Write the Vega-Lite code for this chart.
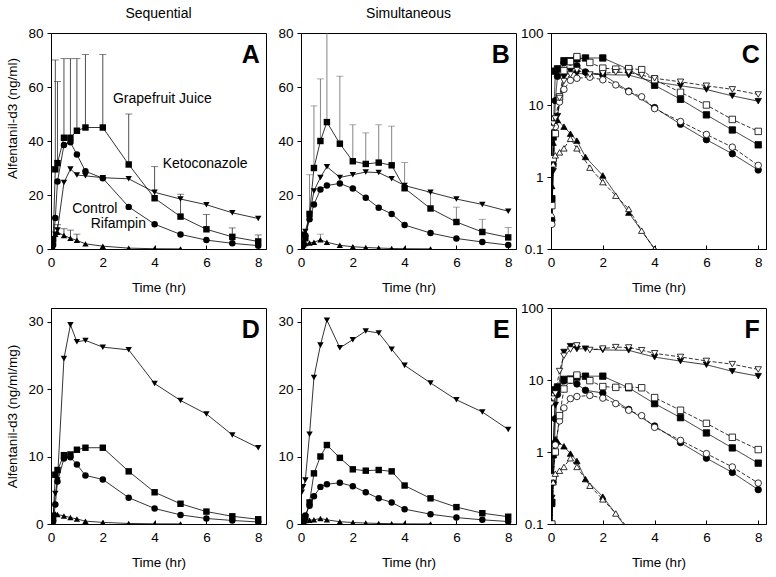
{
  "$schema": "https://vega.github.io/schema/vega-lite/v6.json",
  "padding": {"left": 5, "top": 6, "right": 5, "bottom": 5},
  "background": "white",
  "datasets": {
    "pk": [
      {"s":"seq","d":"Control","t":0.033,"c":0.25,"n":0.1},
      {"s":"seq","d":"Control","t":0.083,"c":1.5,"n":0.38},
      {"s":"seq","d":"Control","t":0.167,"c":11.5,"n":2.9},
      {"s":"seq","d":"Control","t":0.25,"c":25,"n":6.3},
      {"s":"seq","d":"Control","t":0.5,"c":38.5,"n":9.7},
      {"s":"seq","d":"Control","t":0.75,"c":39.5,"n":9.9},
      {"s":"seq","d":"Control","t":1,"c":35,"n":8.8},
      {"s":"seq","d":"Control","t":1.33,"c":28.8,"n":7.2},
      {"s":"seq","d":"Control","t":2,"c":26.2,"n":6.6},
      {"s":"seq","d":"Control","t":3,"c":15.6,"n":3.9},
      {"s":"seq","d":"Control","t":4,"c":9.2,"n":2.3},
      {"s":"seq","d":"Control","t":5,"c":5.4,"n":1.35},
      {"s":"seq","d":"Control","t":6,"c":3.3,"n":0.82},
      {"s":"seq","d":"Control","t":7,"c":2.1,"n":0.52},
      {"s":"seq","d":"Control","t":8,"c":1.25,"n":0.3},
      {"s":"seq","d":"Grapefruit Juice","t":0.033,"c":0.5,"n":0.2},
      {"s":"seq","d":"Grapefruit Juice","t":0.083,"c":3.6,"n":0.92},
      {"s":"seq","d":"Grapefruit Juice","t":0.167,"c":29.5,"n":7.3,"e":70},
      {"s":"seq","d":"Grapefruit Juice","t":0.25,"c":31.8,"n":8,"e":62},
      {"s":"seq","d":"Grapefruit Juice","t":0.5,"c":41.2,"n":10.2,"e":70.5},
      {"s":"seq","d":"Grapefruit Juice","t":0.75,"c":41.2,"n":10.3,"e":70.5},
      {"s":"seq","d":"Grapefruit Juice","t":1,"c":43.8,"n":11,"e":70.5},
      {"s":"seq","d":"Grapefruit Juice","t":1.33,"c":45,"n":11.3,"e":72},
      {"s":"seq","d":"Grapefruit Juice","t":2,"c":45,"n":11.3,"e":72},
      {"s":"seq","d":"Grapefruit Juice","t":3,"c":31.3,"n":7.8,"e":50},
      {"s":"seq","d":"Grapefruit Juice","t":4,"c":18.8,"n":4.7,"e":30.5},
      {"s":"seq","d":"Grapefruit Juice","t":5,"c":12,"n":3.0,"e":20.3},
      {"s":"seq","d":"Grapefruit Juice","t":6,"c":7.3,"n":1.84,"e":12.8},
      {"s":"seq","d":"Grapefruit Juice","t":7,"c":4.5,"n":1.14,"e":7.8},
      {"s":"seq","d":"Grapefruit Juice","t":8,"c":2.8,"n":0.7,"e":5.2},
      {"s":"seq","d":"Ketoconazole","t":0.033,"c":0.24,"n":0.23},
      {"s":"seq","d":"Ketoconazole","t":0.083,"c":1.2,"n":1.3},
      {"s":"seq","d":"Ketoconazole","t":0.167,"c":5.5,"n":4.5},
      {"s":"seq","d":"Ketoconazole","t":0.25,"c":7,"n":6.5},
      {"s":"seq","d":"Ketoconazole","t":0.5,"c":24.6,"n":24.5},
      {"s":"seq","d":"Ketoconazole","t":0.75,"c":29.6,"n":29.5},
      {"s":"seq","d":"Ketoconazole","t":1,"c":27.4,"n":27},
      {"s":"seq","d":"Ketoconazole","t":1.33,"c":27.1,"n":27.2},
      {"s":"seq","d":"Ketoconazole","t":2,"c":26.4,"n":26.2},
      {"s":"seq","d":"Ketoconazole","t":3,"c":26,"n":25.8},
      {"s":"seq","d":"Ketoconazole","t":4,"c":21,"n":20.8},
      {"s":"seq","d":"Ketoconazole","t":5,"c":18.5,"n":18.3},
      {"s":"seq","d":"Ketoconazole","t":6,"c":16.4,"n":16.3},
      {"s":"seq","d":"Ketoconazole","t":7,"c":13.4,"n":13.2},
      {"s":"seq","d":"Ketoconazole","t":8,"c":11.3,"n":11.3},
      {"s":"seq","d":"Rifampin","t":0.033,"c":0.75,"n":0.19},
      {"s":"seq","d":"Rifampin","t":0.083,"c":3,"n":0.9},
      {"s":"seq","d":"Rifampin","t":0.167,"c":5.5,"n":1.5},
      {"s":"seq","d":"Rifampin","t":0.25,"c":6.2,"n":1.4,"e":9},
      {"s":"seq","d":"Rifampin","t":0.5,"c":5,"n":1.2,"e":7.5},
      {"s":"seq","d":"Rifampin","t":0.75,"c":4,"n":0.95,"e":7},
      {"s":"seq","d":"Rifampin","t":1,"c":3.2,"n":0.75,"e":5.5},
      {"s":"seq","d":"Rifampin","t":1.33,"c":1.9,"n":0.42},
      {"s":"seq","d":"Rifampin","t":2,"c":1.05,"n":0.24},
      {"s":"seq","d":"Rifampin","t":3,"c":0.32,"n":0.08},
      {"s":"seq","d":"Rifampin","t":4,"c":0.1,"n":0.03},
      {"s":"seq","d":"Rifampin","t":5,"c":0.04,"n":0.012},
      {"s":"sim","d":"Control","t":0.033,"c":0.22,"n":0.06},
      {"s":"sim","d":"Control","t":0.083,"c":1.8,"n":0.45},
      {"s":"sim","d":"Control","t":0.167,"c":5,"n":1.25},
      {"s":"sim","d":"Control","t":0.33,"c":11,"n":2.7},
      {"s":"sim","d":"Control","t":0.5,"c":16.5,"n":4.1},
      {"s":"sim","d":"Control","t":0.75,"c":22,"n":5.5},
      {"s":"sim","d":"Control","t":1,"c":23.5,"n":5.9},
      {"s":"sim","d":"Control","t":1.5,"c":24.3,"n":6.1},
      {"s":"sim","d":"Control","t":2,"c":22.4,"n":5.6},
      {"s":"sim","d":"Control","t":2.5,"c":19,"n":4.7},
      {"s":"sim","d":"Control","t":3,"c":15.3,"n":3.8},
      {"s":"sim","d":"Control","t":3.5,"c":13,"n":3.2},
      {"s":"sim","d":"Control","t":4,"c":8.9,"n":2.2},
      {"s":"sim","d":"Control","t":5,"c":5.9,"n":1.45},
      {"s":"sim","d":"Control","t":6,"c":3.9,"n":0.95},
      {"s":"sim","d":"Control","t":7,"c":2.6,"n":0.62},
      {"s":"sim","d":"Control","t":8,"c":1.45,"n":0.37},
      {"s":"sim","d":"Grapefruit Juice","t":0.033,"c":0.4,"n":0.1},
      {"s":"sim","d":"Grapefruit Juice","t":0.083,"c":1.8,"n":0.45},
      {"s":"sim","d":"Grapefruit Juice","t":0.167,"c":4,"n":1},
      {"s":"sim","d":"Grapefruit Juice","t":0.33,"c":13,"n":3.2,"e":27.5},
      {"s":"sim","d":"Grapefruit Juice","t":0.5,"c":30,"n":7.5,"e":53},
      {"s":"sim","d":"Grapefruit Juice","t":0.75,"c":40,"n":10,"e":63},
      {"s":"sim","d":"Grapefruit Juice","t":1,"c":47,"n":11.7,"e":85},
      {"s":"sim","d":"Grapefruit Juice","t":1.5,"c":39,"n":9.8,"e":64},
      {"s":"sim","d":"Grapefruit Juice","t":2,"c":32.5,"n":8.1,"e":46},
      {"s":"sim","d":"Grapefruit Juice","t":2.5,"c":31.5,"n":7.9,"e":43},
      {"s":"sim","d":"Grapefruit Juice","t":3,"c":32,"n":8,"e":46},
      {"s":"sim","d":"Grapefruit Juice","t":3.5,"c":31,"n":7.8,"e":45.5},
      {"s":"sim","d":"Grapefruit Juice","t":4,"c":22.5,"n":5.7,"e":32},
      {"s":"sim","d":"Grapefruit Juice","t":5,"c":15,"n":3.8,"e":21},
      {"s":"sim","d":"Grapefruit Juice","t":6,"c":10,"n":2.5,"e":15.5},
      {"s":"sim","d":"Grapefruit Juice","t":7,"c":6.3,"n":1.6,"e":11},
      {"s":"sim","d":"Grapefruit Juice","t":8,"c":4.3,"n":1.08,"e":8},
      {"s":"sim","d":"Ketoconazole","t":0.033,"c":4.8,"n":4.7},
      {"s":"sim","d":"Ketoconazole","t":0.083,"c":5.5,"n":5.5},
      {"s":"sim","d":"Ketoconazole","t":0.167,"c":6.5,"n":6.5},
      {"s":"sim","d":"Ketoconazole","t":0.33,"c":12.5,"n":13.3},
      {"s":"sim","d":"Ketoconazole","t":0.5,"c":21.5,"n":21.7},
      {"s":"sim","d":"Ketoconazole","t":0.75,"c":26.5,"n":26.5},
      {"s":"sim","d":"Ketoconazole","t":1,"c":30.5,"n":30.2},
      {"s":"sim","d":"Ketoconazole","t":1.5,"c":26.5,"n":26.1},
      {"s":"sim","d":"Ketoconazole","t":2,"c":27.5,"n":27.3},
      {"s":"sim","d":"Ketoconazole","t":2.5,"c":28.5,"n":28.6},
      {"s":"sim","d":"Ketoconazole","t":3,"c":28.3,"n":28.3},
      {"s":"sim","d":"Ketoconazole","t":3.5,"c":26,"n":25.9},
      {"s":"sim","d":"Ketoconazole","t":4,"c":23.5,"n":23.5},
      {"s":"sim","d":"Ketoconazole","t":5,"c":21,"n":20.9},
      {"s":"sim","d":"Ketoconazole","t":6,"c":18.5,"n":18.4},
      {"s":"sim","d":"Ketoconazole","t":7,"c":16.5,"n":16.6},
      {"s":"sim","d":"Ketoconazole","t":8,"c":14,"n":14},
      {"s":"sim","d":"Rifampin","t":0.033,"c":0.3,"n":0.08},
      {"s":"sim","d":"Rifampin","t":0.083,"c":1.5,"n":0.38},
      {"s":"sim","d":"Rifampin","t":0.167,"c":2,"n":0.5},
      {"s":"sim","d":"Rifampin","t":0.33,"c":2.2,"n":0.55},
      {"s":"sim","d":"Rifampin","t":0.5,"c":2.5,"n":0.62},
      {"s":"sim","d":"Rifampin","t":0.75,"c":3.4,"n":0.82,"e":5.5},
      {"s":"sim","d":"Rifampin","t":1,"c":2.5,"n":0.62},
      {"s":"sim","d":"Rifampin","t":1.5,"c":1.35,"n":0.34},
      {"s":"sim","d":"Rifampin","t":2,"c":0.85,"n":0.22},
      {"s":"sim","d":"Rifampin","t":2.5,"c":0.55,"n":0.14},
      {"s":"sim","d":"Rifampin","t":3,"c":0.36,"n":0.085},
      {"s":"sim","d":"Rifampin","t":3.5,"c":0.18,"n":0.05},
      {"s":"sim","d":"Rifampin","t":4,"c":0.1,"n":0.025},
      {"s":"sim","d":"Rifampin","t":5,"c":0.05,"n":0.012}
    ],
    "ann": [
      {"label":"Grapefruit Juice","t":4.3,"v":55.5},
      {"label":"Ketoconazole","t":5.95,"v":31.5},
      {"label":"Control","t":1.69,"v":14.9},
      {"label":"Rifampin","t":2.6,"v":9.3}
    ],
    "letters": [
      {"p":"A","t":8.06,"v":68.9},
      {"p":"B","t":8.06,"v":68.9},
      {"p":"C","t":8.06,"v":38.3},
      {"p":"D","t":8.06,"v":27.56},
      {"p":"E","t":8.06,"v":27.56},
      {"p":"F","t":8.06,"v":38.3}
    ]
  },
  "columns": 3,
  "spacing": {"row": 59, "column": 35},
  "bounds": "flush",
  "resolve": {"scale": {"x": "independent", "y": "independent"}},
  "concat": [
    {
      "width": 215, "height": 216,
      "title": {"text": "Sequential"},
      "layer": [
        {"data": {"name": "pk"}, "transform": [{"filter": "datum.s=='seq' && isValid(datum.e)"}],
         "mark": {"type": "rule", "color": "#222", "strokeWidth": 0.8, "clip": true},
         "encoding": {
           "x": {"field": "t", "type": "quantitative", "scale": {"domain": [0, 8.3], "nice": false, "zero": false}, "axis": {"values": [0, 2, 4, 6, 8], "title": "Time (hr)"}},
           "y": {"field": "c", "type": "quantitative", "scale": {"domain": [0, 80], "nice": false}, "axis": {"values": [0, 10, 20, 30, 40, 50, 60, 70, 80], "title": "Alfentanil-d3 (ng/ml)", "titleY": 85}},
           "y2": {"field": "e"}}},
        {"data": {"name": "pk"}, "transform": [{"filter": "datum.s=='seq' && isValid(datum.e)"}],
         "mark": {"type": "tick", "orient": "horizontal", "size": 7, "thickness": 0.8, "color": "#222", "clip": true},
         "encoding": {
           "x": {"field": "t", "type": "quantitative", "scale": {"domain": [0, 8.3], "nice": false, "zero": false}},
           "y": {"field": "e", "type": "quantitative", "scale": {"domain": [0, 80], "nice": false}}}},
        {"data": {"name": "pk"}, "transform": [{"filter": "datum.s=='seq'"}],
         "mark": {"type": "line", "color": "black", "strokeWidth": 0.8, "clip": true},
         "encoding": {
           "x": {"field": "t", "type": "quantitative", "scale": {"domain": [0, 8.3], "nice": false, "zero": false}},
           "y": {"field": "c", "type": "quantitative", "scale": {"domain": [0, 80], "nice": false}},
           "detail": {"field": "d"}}},
        {"data": {"name": "pk"}, "transform": [{"filter": "datum.s=='seq'"}],
         "mark": {"type": "point", "filled": true, "color": "black", "opacity": 1, "clip": true},
         "encoding": {
           "x": {"field": "t", "type": "quantitative", "scale": {"domain": [0, 8.3], "nice": false, "zero": false}},
           "y": {"field": "c", "type": "quantitative", "scale": {"domain": [0, 80], "nice": false}},
           "shape": {"field": "d", "type": "nominal", "scale": {"domain": ["Control", "Grapefruit Juice", "Ketoconazole", "Rifampin"], "range": ["circle", "square", "triangle-down", "triangle-up"]}, "legend": null},
           "size": {"field": "d", "type": "ordinal", "scale": {"domain": ["Control", "Grapefruit Juice", "Ketoconazole", "Rifampin"], "range": [42, 40, 60, 60]}, "legend": null}}},
        {"data": {"name": "ann"},
         "mark": {"type": "text", "fontSize": 14, "font": "Liberation Sans", "color": "black", "align": "center", "baseline": "middle"},
         "encoding": {
           "x": {"field": "t", "type": "quantitative", "scale": {"domain": [0, 8.3], "nice": false, "zero": false}},
           "y": {"field": "v", "type": "quantitative", "scale": {"domain": [0, 80], "nice": false}},
           "text": {"field": "label"}}},
        {"data": {"name": "letters"}, "transform": [{"filter": "datum.p=='A'"}],
         "mark": {"type": "text", "fontSize": 25, "fontWeight": "bold", "font": "Liberation Sans", "color": "black", "align": "right", "baseline": "alphabetic"},
         "encoding": {
           "x": {"field": "t", "type": "quantitative", "scale": {"domain": [0, 8.3], "nice": false, "zero": false}},
           "y": {"field": "v", "type": "quantitative", "scale": {"domain": [0, 80], "nice": false}},
           "text": {"field": "p"}}}
      ]
    },
    {
      "width": 215, "height": 216,
      "title": {"text": "Simultaneous"},
      "layer": [
        {"data": {"name": "pk"}, "transform": [{"filter": "datum.s=='sim' && isValid(datum.e)"}],
         "mark": {"type": "rule", "color": "#666", "strokeWidth": 0.8, "clip": true},
         "encoding": {
           "x": {"field": "t", "type": "quantitative", "scale": {"domain": [0, 8.3], "nice": false, "zero": false}, "axis": {"values": [0, 2, 4, 6, 8], "title": "Time (hr)"}},
           "y": {"field": "c", "type": "quantitative", "scale": {"domain": [0, 80], "nice": false}, "axis": {"values": [0, 10, 20, 30, 40, 50, 60, 70, 80], "title": ""}},
           "y2": {"field": "e"}}},
        {"data": {"name": "pk"}, "transform": [{"filter": "datum.s=='sim' && isValid(datum.e)"}],
         "mark": {"type": "tick", "orient": "horizontal", "size": 7, "thickness": 0.8, "color": "#666", "clip": true},
         "encoding": {
           "x": {"field": "t", "type": "quantitative", "scale": {"domain": [0, 8.3], "nice": false, "zero": false}},
           "y": {"field": "e", "type": "quantitative", "scale": {"domain": [0, 80], "nice": false}}}},
        {"data": {"name": "pk"}, "transform": [{"filter": "datum.s=='sim'"}],
         "mark": {"type": "line", "color": "black", "strokeWidth": 0.8, "clip": true},
         "encoding": {
           "x": {"field": "t", "type": "quantitative", "scale": {"domain": [0, 8.3], "nice": false, "zero": false}},
           "y": {"field": "c", "type": "quantitative", "scale": {"domain": [0, 80], "nice": false}},
           "detail": {"field": "d"}}},
        {"data": {"name": "pk"}, "transform": [{"filter": "datum.s=='sim'"}],
         "mark": {"type": "point", "filled": true, "color": "black", "opacity": 1, "clip": true},
         "encoding": {
           "x": {"field": "t", "type": "quantitative", "scale": {"domain": [0, 8.3], "nice": false, "zero": false}},
           "y": {"field": "c", "type": "quantitative", "scale": {"domain": [0, 80], "nice": false}},
           "shape": {"field": "d", "type": "nominal", "scale": {"domain": ["Control", "Grapefruit Juice", "Ketoconazole", "Rifampin"], "range": ["circle", "square", "triangle-down", "triangle-up"]}, "legend": null},
           "size": {"field": "d", "type": "ordinal", "scale": {"domain": ["Control", "Grapefruit Juice", "Ketoconazole", "Rifampin"], "range": [42, 40, 60, 60]}, "legend": null}}},
        {"data": {"name": "letters"}, "transform": [{"filter": "datum.p=='B'"}],
         "mark": {"type": "text", "fontSize": 25, "fontWeight": "bold", "font": "Liberation Sans", "color": "black", "align": "right", "baseline": "alphabetic"},
         "encoding": {
           "x": {"field": "t", "type": "quantitative", "scale": {"domain": [0, 8.3], "nice": false, "zero": false}},
           "y": {"field": "v", "type": "quantitative", "scale": {"domain": [0, 80], "nice": false}},
           "text": {"field": "p"}}}
      ]
    },
    {
      "width": 215, "height": 216,
      "layer": [
        {"data": {"name": "pk"},
         "mark": {"type": "line", "color": "black", "strokeWidth": 0.8, "clip": true},
         "encoding": {
           "x": {"field": "t", "type": "quantitative", "scale": {"domain": [0, 8.3], "nice": false, "zero": false}, "axis": {"values": [0, 2, 4, 6, 8], "title": "Time (hr)"}},
           "y": {"field": "c", "type": "quantitative", "scale": {"type": "log", "domain": [0.1, 100], "nice": false}, "axis": {"values": [0.1, 1, 10, 100], "format": "~g", "title": ""}},
           "detail": [{"field": "s"}, {"field": "d"}],
           "strokeDash": {"field": "s", "type": "nominal", "scale": {"domain": ["seq", "sim"], "range": [[1, 0], [4, 2]]}, "legend": null}}},
        {"data": {"name": "pk"},
         "mark": {"type": "point", "filled": true, "stroke": "black", "strokeWidth": 0.8, "opacity": 1, "clip": true},
         "encoding": {
           "x": {"field": "t", "type": "quantitative", "scale": {"domain": [0, 8.3], "nice": false, "zero": false}},
           "y": {"field": "c", "type": "quantitative", "scale": {"type": "log", "domain": [0.1, 100], "nice": false}},
           "fill": {"field": "s", "type": "nominal", "scale": {"domain": ["seq", "sim"], "range": ["black", "white"]}, "legend": null},
           "shape": {"field": "d", "type": "nominal", "scale": {"domain": ["Control", "Grapefruit Juice", "Ketoconazole", "Rifampin"], "range": ["circle", "square", "triangle-down", "triangle-up"]}, "legend": null},
           "size": {"field": "d", "type": "ordinal", "scale": {"domain": ["Control", "Grapefruit Juice", "Ketoconazole", "Rifampin"], "range": [36, 34, 52, 52]}, "legend": null}}},
        {"data": {"name": "letters"}, "transform": [{"filter": "datum.p=='C'"}],
         "mark": {"type": "text", "fontSize": 25, "fontWeight": "bold", "font": "Liberation Sans", "color": "black", "align": "right", "baseline": "alphabetic"},
         "encoding": {
           "x": {"field": "t", "type": "quantitative", "scale": {"domain": [0, 8.3], "nice": false, "zero": false}},
           "y": {"field": "v", "type": "quantitative", "scale": {"type": "log", "domain": [0.1, 100], "nice": false}},
           "text": {"field": "p"}}}
      ]
    },
    {
      "width": 215, "height": 216,
      "layer": [
        {"data": {"name": "pk"}, "transform": [{"filter": "datum.s=='seq'"}],
         "mark": {"type": "line", "color": "black", "strokeWidth": 0.8, "clip": true},
         "encoding": {
           "x": {"field": "t", "type": "quantitative", "scale": {"domain": [0, 8.3], "nice": false, "zero": false}, "axis": {"values": [0, 2, 4, 6, 8], "title": "Time (hr)"}},
           "y": {"field": "n", "type": "quantitative", "scale": {"domain": [0, 32], "nice": false}, "axis": {"values": [0, 5, 10, 15, 20, 25, 30], "title": "Alfentanil-d3 (ng/ml/mg)"}},
           "detail": {"field": "d"}}},
        {"data": {"name": "pk"}, "transform": [{"filter": "datum.s=='seq'"}],
         "mark": {"type": "point", "filled": true, "color": "black", "opacity": 1, "clip": true},
         "encoding": {
           "x": {"field": "t", "type": "quantitative", "scale": {"domain": [0, 8.3], "nice": false, "zero": false}},
           "y": {"field": "n", "type": "quantitative", "scale": {"domain": [0, 32], "nice": false}},
           "shape": {"field": "d", "type": "nominal", "scale": {"domain": ["Control", "Grapefruit Juice", "Ketoconazole", "Rifampin"], "range": ["circle", "square", "triangle-down", "triangle-up"]}, "legend": null},
           "size": {"field": "d", "type": "ordinal", "scale": {"domain": ["Control", "Grapefruit Juice", "Ketoconazole", "Rifampin"], "range": [42, 40, 60, 60]}, "legend": null}}},
        {"data": {"name": "letters"}, "transform": [{"filter": "datum.p=='D'"}],
         "mark": {"type": "text", "fontSize": 25, "fontWeight": "bold", "font": "Liberation Sans", "color": "black", "align": "right", "baseline": "alphabetic"},
         "encoding": {
           "x": {"field": "t", "type": "quantitative", "scale": {"domain": [0, 8.3], "nice": false, "zero": false}},
           "y": {"field": "v", "type": "quantitative", "scale": {"domain": [0, 32], "nice": false}},
           "text": {"field": "p"}}}
      ]
    },
    {
      "width": 215, "height": 216,
      "layer": [
        {"data": {"name": "pk"}, "transform": [{"filter": "datum.s=='sim'"}],
         "mark": {"type": "line", "color": "black", "strokeWidth": 0.8, "clip": true},
         "encoding": {
           "x": {"field": "t", "type": "quantitative", "scale": {"domain": [0, 8.3], "nice": false, "zero": false}, "axis": {"values": [0, 2, 4, 6, 8], "title": "Time (hr)"}},
           "y": {"field": "n", "type": "quantitative", "scale": {"domain": [0, 32], "nice": false}, "axis": {"values": [0, 5, 10, 15, 20, 25, 30], "title": ""}},
           "detail": {"field": "d"}}},
        {"data": {"name": "pk"}, "transform": [{"filter": "datum.s=='sim'"}],
         "mark": {"type": "point", "filled": true, "color": "black", "opacity": 1, "clip": true},
         "encoding": {
           "x": {"field": "t", "type": "quantitative", "scale": {"domain": [0, 8.3], "nice": false, "zero": false}},
           "y": {"field": "n", "type": "quantitative", "scale": {"domain": [0, 32], "nice": false}},
           "shape": {"field": "d", "type": "nominal", "scale": {"domain": ["Control", "Grapefruit Juice", "Ketoconazole", "Rifampin"], "range": ["circle", "square", "triangle-down", "triangle-up"]}, "legend": null},
           "size": {"field": "d", "type": "ordinal", "scale": {"domain": ["Control", "Grapefruit Juice", "Ketoconazole", "Rifampin"], "range": [42, 40, 60, 60]}, "legend": null}}},
        {"data": {"name": "letters"}, "transform": [{"filter": "datum.p=='E'"}],
         "mark": {"type": "text", "fontSize": 25, "fontWeight": "bold", "font": "Liberation Sans", "color": "black", "align": "right", "baseline": "alphabetic"},
         "encoding": {
           "x": {"field": "t", "type": "quantitative", "scale": {"domain": [0, 8.3], "nice": false, "zero": false}},
           "y": {"field": "v", "type": "quantitative", "scale": {"domain": [0, 32], "nice": false}},
           "text": {"field": "p"}}}
      ]
    },
    {
      "width": 215, "height": 216,
      "layer": [
        {"data": {"name": "pk"},
         "mark": {"type": "line", "color": "black", "strokeWidth": 0.8, "clip": true},
         "encoding": {
           "x": {"field": "t", "type": "quantitative", "scale": {"domain": [0, 8.3], "nice": false, "zero": false}, "axis": {"values": [0, 2, 4, 6, 8], "title": "Time (hr)"}},
           "y": {"field": "n", "type": "quantitative", "scale": {"type": "log", "domain": [0.1, 100], "nice": false}, "axis": {"values": [0.1, 1, 10, 100], "format": "~g", "title": ""}},
           "detail": [{"field": "s"}, {"field": "d"}],
           "strokeDash": {"field": "s", "type": "nominal", "scale": {"domain": ["seq", "sim"], "range": [[1, 0], [4, 2]]}, "legend": null}}},
        {"data": {"name": "pk"},
         "mark": {"type": "point", "filled": true, "stroke": "black", "strokeWidth": 0.8, "opacity": 1, "clip": true},
         "encoding": {
           "x": {"field": "t", "type": "quantitative", "scale": {"domain": [0, 8.3], "nice": false, "zero": false}},
           "y": {"field": "n", "type": "quantitative", "scale": {"type": "log", "domain": [0.1, 100], "nice": false}},
           "fill": {"field": "s", "type": "nominal", "scale": {"domain": ["seq", "sim"], "range": ["black", "white"]}, "legend": null},
           "shape": {"field": "d", "type": "nominal", "scale": {"domain": ["Control", "Grapefruit Juice", "Ketoconazole", "Rifampin"], "range": ["circle", "square", "triangle-down", "triangle-up"]}, "legend": null},
           "size": {"field": "d", "type": "ordinal", "scale": {"domain": ["Control", "Grapefruit Juice", "Ketoconazole", "Rifampin"], "range": [36, 34, 52, 52]}, "legend": null}}},
        {"data": {"name": "letters"}, "transform": [{"filter": "datum.p=='F'"}],
         "mark": {"type": "text", "fontSize": 25, "fontWeight": "bold", "font": "Liberation Sans", "color": "black", "align": "right", "baseline": "alphabetic"},
         "encoding": {
           "x": {"field": "t", "type": "quantitative", "scale": {"domain": [0, 8.3], "nice": false, "zero": false}},
           "y": {"field": "v", "type": "quantitative", "scale": {"type": "log", "domain": [0.1, 100], "nice": false}},
           "text": {"field": "p"}}}
      ]
    }
  ],
  "config": {
    "font": "Liberation Sans",
    "view": {"stroke": "black", "strokeWidth": 1},
    "axis": {"grid": false, "domainColor": "black", "domainWidth": 1, "tickColor": "black", "tickWidth": 1, "labelColor": "black", "titleColor": "black", "labelFontSize": 13.5, "titleFontSize": 13.5, "titleFontWeight": "normal", "labelFont": "Liberation Sans", "titleFont": "Liberation Sans", "labelFlush": false, "labelOverlap": false},
    "axisX": {"tickSize": -4, "labelPadding": 10, "titlePadding": 12},
    "axisY": {"tickSize": 4, "labelPadding": 4, "titlePadding": 8},
    "title": {"fontSize": 14, "fontWeight": "normal", "font": "Liberation Sans", "anchor": "middle", "offset": 5, "color": "black"}
  }
}
